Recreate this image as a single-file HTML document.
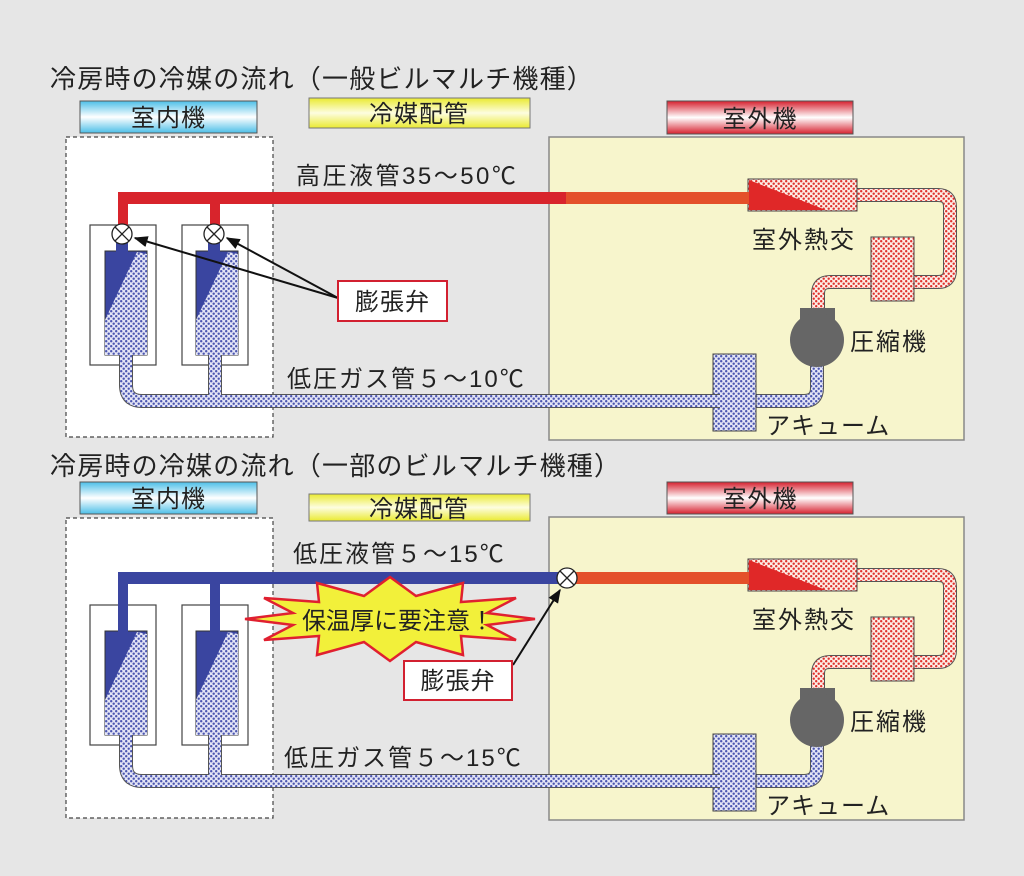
<!DOCTYPE html>
<html><head><meta charset="utf-8"><style>
html,body{margin:0;padding:0;background:#e6e6e6;}
svg{display:block;}
text{font-family:"Liberation Sans","Noto Sans CJK JP",sans-serif;fill:#222;}
.l{font-size:24px;letter-spacing:1px;}
</style></head><body>
<svg width="1024" height="876" viewBox="0 0 1024 876" xmlns="http://www.w3.org/2000/svg">
<defs>
<pattern id="pb" width="5" height="5" patternUnits="userSpaceOnUse">
<rect width="5" height="5" fill="#e4e5f6"/><circle cx="1.2" cy="1.2" r="1.2" fill="#4a55b0"/><circle cx="3.7" cy="3.7" r="1.2" fill="#4a55b0"/>
</pattern>
<pattern id="pr" width="5" height="5" patternUnits="userSpaceOnUse">
<rect width="5" height="5" fill="#fdeee6"/><circle cx="1.2" cy="1.2" r="1.2" fill="#e0302c"/><circle cx="3.7" cy="3.7" r="1.2" fill="#e0302c"/>
</pattern>
<linearGradient id="gb" x1="0" y1="0" x2="0" y2="1"><stop offset="0" stop-color="#4cbfe8"/><stop offset="0.5" stop-color="#ffffff"/><stop offset="1" stop-color="#4cbfe8"/></linearGradient>
<linearGradient id="gy" x1="0" y1="0" x2="0" y2="1"><stop offset="0" stop-color="#eaea30"/><stop offset="0.5" stop-color="#fdfde0"/><stop offset="1" stop-color="#eaea30"/></linearGradient>
<linearGradient id="gr" x1="0" y1="0" x2="0" y2="1"><stop offset="0" stop-color="#d6202e"/><stop offset="0.5" stop-color="#ffffff"/><stop offset="1" stop-color="#d6202e"/></linearGradient>
<marker id="ah" viewBox="0 0 10 10" refX="9" refY="5" markerWidth="7" markerHeight="7" orient="auto"><path d="M0,1 L10,5 L0,9 z" fill="#111"/></marker>

<g id="indoor">
<rect x="90" y="225" width="66" height="140" fill="#fff" stroke="#444" stroke-width="1.2"/>
<rect x="182" y="225" width="66" height="140" fill="#fff" stroke="#444" stroke-width="1.2"/>
<rect x="105" y="251" width="42" height="104" fill="#3a45a0" stroke="#333" stroke-width="1"/>
<polygon points="147,254 147,355 105,355 105,320 137,252" fill="url(#pb)"/>
<rect x="196" y="251" width="42" height="104" fill="#3a45a0" stroke="#333" stroke-width="1"/>
<polygon points="238,254 238,355 196,355 196,320 228,252" fill="url(#pb)"/>
</g>
<g id="outdoor">
<rect x="549" y="137" width="415" height="303" fill="#f7f5cc" stroke="#888" stroke-width="1.5"/>
<path d="M857,195 H938 Q950,195 950,207 V270 Q950,282 938,282 H830 Q818,282 818,294 V310" fill="none" stroke="#555" stroke-width="14"/>
<path d="M857,195 H938 Q950,195 950,207 V270 Q950,282 938,282 H830 Q818,282 818,294 V310" fill="none" stroke="url(#pr)" stroke-width="12"/>
<rect x="871" y="237" width="43" height="64" fill="url(#pr)" stroke="#444" stroke-width="1"/>
<rect x="748" y="179" width="109" height="32" fill="url(#pr)" stroke="#444" stroke-width="1"/>
<polygon points="749,180 749,210 826,210" fill="#e02828"/>
<path d="M817,360 V388 Q817,401 804,401 H740" fill="none" stroke="#555" stroke-width="14"/>
<path d="M817,360 V388 Q817,401 804,401 H740" fill="none" stroke="url(#pb)" stroke-width="12"/>
<rect x="800" y="308" width="35" height="24" fill="#666"/>
<circle cx="817" cy="340" r="27" fill="#666"/>
<rect x="713" y="354" width="43" height="77" fill="url(#pb)" stroke="#444" stroke-width="1"/>
<text x="752" y="248" class="l" style="letter-spacing:2px">室外熱交</text>
<text x="850" y="350" class="l" style="letter-spacing:2px">圧縮機</text>
<text x="766" y="434" class="l">アキューム</text>
</g>
</defs>

<!-- ===== TOP ===== -->
<text x="50" y="88" font-size="26" style="letter-spacing:1.2px">冷房時の冷媒の流れ（一般ビルマルチ機種）</text>
<rect x="80" y="101" width="177" height="32" fill="url(#gb)" stroke="#555" stroke-width="1"/>
<text x="168.5" y="126" class="l" text-anchor="middle">室内機</text>
<rect x="309" y="98" width="221" height="30" fill="url(#gy)" stroke="#777" stroke-width="1"/>
<text x="419" y="122" class="l" text-anchor="middle">冷媒配管</text>
<rect x="667" y="101" width="186" height="33" fill="url(#gr)" stroke="#555" stroke-width="1"/>
<text x="760" y="127" class="l" text-anchor="middle">室外機</text>

<rect x="66" y="137" width="207" height="300" fill="#fff" stroke="#444" stroke-width="1.2" stroke-dasharray="4,3"/>
<use href="#outdoor"/>
<use href="#indoor"/>
<rect x="549" y="192" width="200" height="12" fill="#e4502a"/>
<rect x="118" y="192" width="448" height="12" fill="#d8242c"/>
<rect x="118" y="192" width="10" height="40" fill="#d8242c"/>
<rect x="210" y="192" width="10" height="40" fill="#d8242c"/>
<rect x="116" y="240" width="12" height="12" fill="#3a45a0"/>
<rect x="208" y="240" width="12" height="12" fill="#3a45a0"/>
<path d="M126,355 V385 Q126,401 142,401 H720" fill="none" stroke="#555" stroke-width="14"/>
<path d="M215,355 V401" fill="none" stroke="#555" stroke-width="14"/>
<path d="M126,355 V385 Q126,401 142,401 H720" fill="none" stroke="url(#pb)" stroke-width="12"/>
<path d="M215,355 V401" fill="none" stroke="url(#pb)" stroke-width="12"/>
<g stroke="#222" stroke-width="1.3" fill="#fff"><circle cx="122" cy="234" r="10"/><circle cx="214" cy="234" r="10"/></g>
<g stroke="#222" stroke-width="1.3"><path d="M115,227 L129,241 M129,227 L115,241"/><path d="M207,227 L221,241 M221,227 L207,241"/></g>
<text x="296" y="184" class="l" style="letter-spacing:2.5px">高圧液管35～50℃</text>
<text x="287" y="387" class="l" style="letter-spacing:2px">低圧ガス管５～10℃</text>
<line x1="338" y1="298" x2="135" y2="238" stroke="#111" stroke-width="2" marker-end="url(#ah)"/>
<line x1="338" y1="298" x2="227" y2="238" stroke="#111" stroke-width="2" marker-end="url(#ah)"/>
<rect x="338" y="281" width="109" height="40" fill="#fff" stroke="#d22030" stroke-width="2"/>
<text x="392.5" y="310" class="l" text-anchor="middle">膨張弁</text>

<!-- ===== BOTTOM ===== -->
<text x="50" y="475" font-size="26" style="letter-spacing:1.2px">冷房時の冷媒の流れ（一部のビルマルチ機種）</text>
<rect x="80" y="482" width="177" height="32" fill="url(#gb)" stroke="#555" stroke-width="1"/>
<text x="168.5" y="507" class="l" text-anchor="middle">室内機</text>
<rect x="309" y="494" width="221" height="27" fill="url(#gy)" stroke="#777" stroke-width="1"/>
<text x="419" y="517" class="l" text-anchor="middle">冷媒配管</text>
<rect x="667" y="482" width="186" height="32" fill="url(#gr)" stroke="#555" stroke-width="1"/>
<text x="760" y="507" class="l" text-anchor="middle">室外機</text>

<rect x="66" y="518" width="207" height="300" fill="#fff" stroke="#444" stroke-width="1.2" stroke-dasharray="4,3"/>
<g transform="translate(0,380)"><use href="#outdoor"/><use href="#indoor"/></g>
<rect x="570" y="572" width="179" height="12" fill="#e4502a"/>
<rect x="118" y="572" width="448" height="12" fill="#3a45a0"/>
<rect x="118" y="572" width="10" height="60" fill="#3a45a0"/>
<rect x="210" y="572" width="10" height="60" fill="#3a45a0"/>
<path d="M126,735 V765 Q126,781 142,781 H720" fill="none" stroke="#555" stroke-width="14"/>
<path d="M215,735 V781" fill="none" stroke="#555" stroke-width="14"/>
<path d="M126,735 V765 Q126,781 142,781 H720" fill="none" stroke="url(#pb)" stroke-width="12"/>
<path d="M215,735 V781" fill="none" stroke="url(#pb)" stroke-width="12"/>
<circle cx="567" cy="578" r="10" fill="#fff" stroke="#222" stroke-width="1.3"/>
<path d="M560,571 L574,585 M574,571 L560,585" stroke="#222" stroke-width="1.3"/>
<text x="293" y="562" class="l" style="letter-spacing:2px">低圧液管５～15℃</text>
<text x="284" y="766" class="l" style="letter-spacing:2px">低圧ガス管５～15℃</text>
<polygon points="535,619 487,625 516,640 461,636 463,655 416,642 390,661 364,642 317,655 319,636 264,640 293,625 245,619 293,613 264,598 319,602 317,583 364,596 390,577 416,596 463,583 461,602 516,598 487,613" fill="#f2f03a" stroke="#e02030" stroke-width="2.5"/>
<text x="398" y="629" font-size="24" text-anchor="middle">保温厚に要注意！</text>
<line x1="513" y1="665" x2="560" y2="590" stroke="#111" stroke-width="2" marker-end="url(#ah)"/>
<rect x="404" y="661" width="108" height="39" fill="#fff" stroke="#d22030" stroke-width="2"/>
<text x="458" y="689" class="l" text-anchor="middle">膨張弁</text>
</svg>
</body></html>
